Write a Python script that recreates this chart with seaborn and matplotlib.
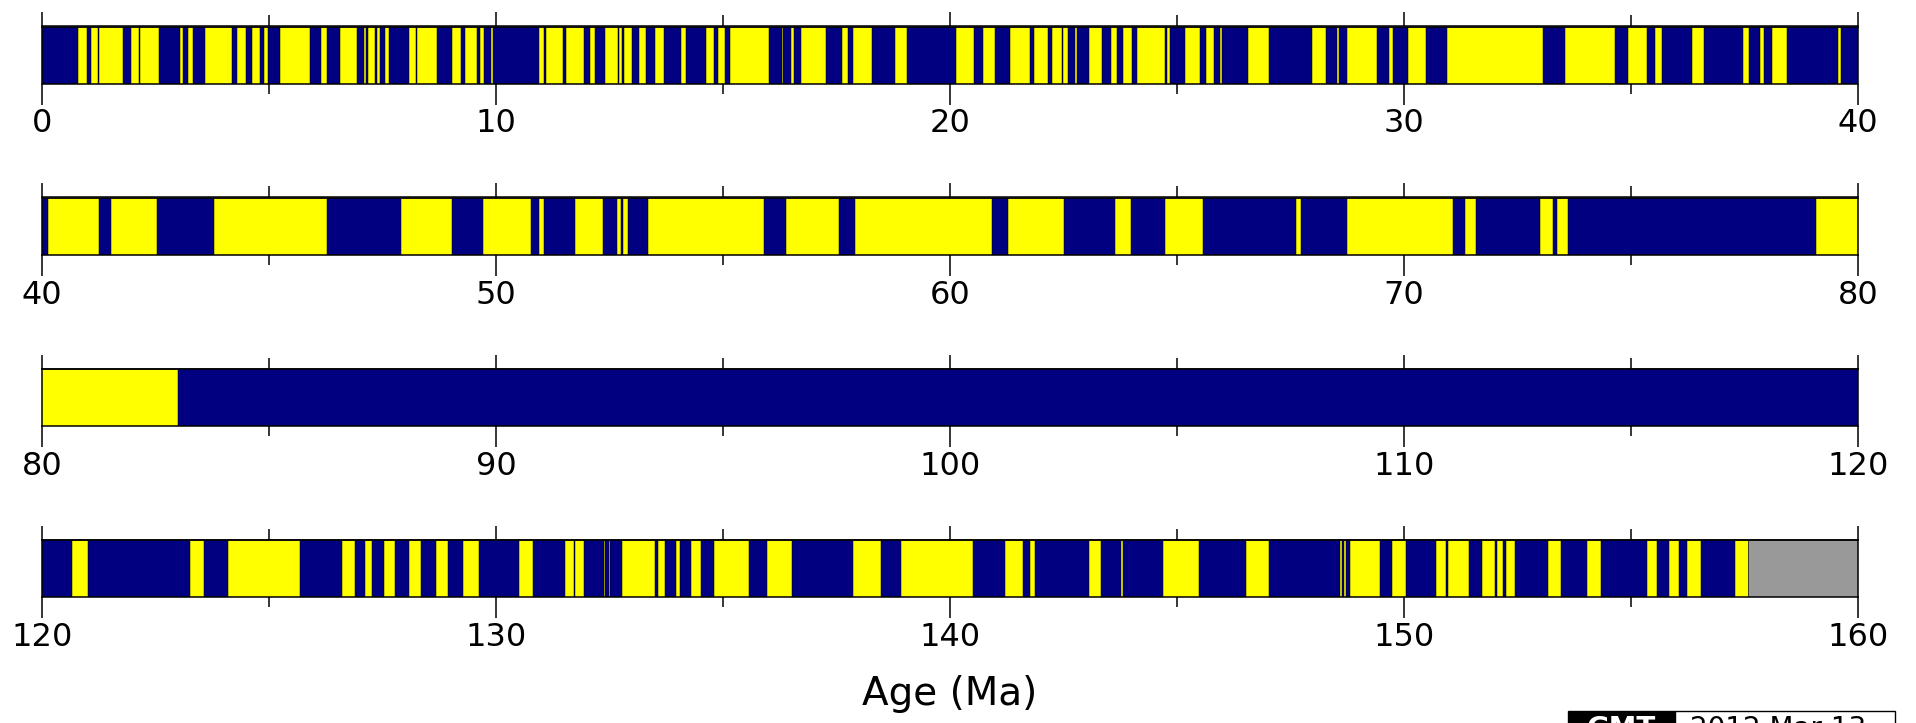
import numpy as np
import matplotlib
matplotlib.use("Agg")
import matplotlib.pyplot as plt
from matplotlib.patches import Rectangle
import seaborn as sns

# -----------------------------
# Data: normal polarity chrons (Ma), everything else in the record is reversed
# -----------------------------
normal_start = [
    0.000, 0.990, 1.225, 1.770, 2.140, 2.581, 3.110, 3.330, 4.180, 4.480,
    4.800, 4.980, 5.894, 6.269, 6.935, 7.135, 7.341, 7.432, 7.650, 8.225,
    8.699, 9.230, 9.580, 9.740, 9.920, 11.052, 11.476, 11.935, 12.184, 12.678,
    12.775, 12.991, 13.302, 13.703, 14.178, 14.800, 15.034, 16.014, 16.327, 16.556,
    17.277, 17.760, 18.281, 19.048, 20.518, 20.996, 21.768, 22.151, 22.459, 22.588,
    22.804, 23.353, 23.677, 23.999, 24.730, 24.835, 25.496, 25.823, 25.992, 27.027,
    28.283, 28.578, 29.401, 29.765, 30.479, 33.058, 34.655, 35.343, 35.685, 36.618,
    37.604, 37.920, 38.426, 39.631, 41.257, 42.536, 46.264, 49.037, 50.778, 51.047,
    52.364, 52.757, 52.903, 55.904, 57.554, 60.920, 62.499, 63.976, 65.578, 67.735,
    71.071, 71.587, 73.291, 73.619, 83.000,
    121.01, 123.56, 125.67, 126.90, 127.26, 127.78, 128.35, 128.93, 129.62, 130.81,
    131.71, 131.93, 132.39, 132.51, 133.50, 133.73, 134.05, 134.52, 135.57, 136.51,
    138.48, 140.50, 141.61, 141.88, 143.32, 143.80, 145.48, 147.03, 148.64, 148.73,
    149.48, 150.04, 150.93, 151.42, 152.00, 152.18, 152.45, 153.46, 154.34, 155.57,
    156.05, 156.54,
]
normal_end = [
    0.780, 1.070, 1.245, 1.950, 2.150, 3.040, 3.220, 3.580, 4.290, 4.620,
    4.890, 5.230, 6.137, 6.567, 7.091, 7.170, 7.375, 7.562, 8.072, 8.257,
    9.025, 9.308, 9.642, 9.880, 10.949, 11.099, 11.531, 12.078, 12.401, 12.708,
    12.819, 13.139, 13.510, 14.076, 14.612, 14.888, 15.155, 16.293, 16.488, 16.726,
    17.615, 17.850, 18.781, 20.131, 20.725, 21.320, 21.859, 22.248, 22.493, 22.750,
    23.069, 23.535, 23.800, 24.118, 24.781, 25.183, 25.648, 25.951, 26.554, 27.972,
    28.512, 28.745, 29.662, 30.098, 30.939, 33.545, 34.940, 35.526, 36.341, 37.473,
    37.848, 38.113, 39.552, 40.130, 41.521, 43.789, 47.906, 49.714, 50.946, 51.743,
    52.663, 52.801, 53.347, 56.391, 57.911, 61.276, 63.634, 64.745, 67.610, 68.737,
    71.338, 73.004, 73.374, 79.075, 120.65,
    123.26, 124.09, 126.60, 127.11, 127.52, 128.09, 128.67, 129.27, 130.51, 131.51,
    131.73, 132.37, 132.48, 132.78, 133.57, 133.96, 134.29, 134.81, 135.96, 137.87,
    138.92, 141.20, 141.77, 143.06, 143.77, 144.69, 146.52, 148.59, 148.68, 148.82,
    149.73, 150.71, 150.97, 151.72, 152.04, 152.25, 153.18, 154.03, 155.35, 155.83,
    156.23, 157.29,
]

record_start = 0.0
record_end = 157.57      # older than this: no data (grey)
age_max = 160.0

row_starts = [0, 40, 80, 120]
row_span = 40
major_step = 10
minor_step = 5

navy = "#000080"
yellow = "#FFFF00"
grey = "#999999"

# -----------------------------
# Figure
# -----------------------------
sns.set_theme(style="ticks")
plt.rcParams['font.family'] = ['DejaVu Sans']

W, H = 1916, 723
fig = plt.figure(figsize=(W / 100, H / 100), dpi=100)

ax_left = 42.2 / W
ax_width = 1815.8 / W
row_tops = [26.5, 197.5, 369, 540]
bar_h = 57

ns = np.array(normal_start)
ne = np.array(normal_end)

for top, x0 in zip(row_tops, row_starts):
    ax = fig.add_axes([ax_left, 1 - (top + bar_h) / H, ax_width, bar_h / H])

    # reversed background, no-data part, then normal chrons
    ax.barh(0, record_end - record_start, left=record_start, height=1,
            color=yellow, edgecolor="black", linewidth=0.4)
    ax.barh(0, age_max - record_end, left=record_end, height=1,
            color=grey, edgecolor="black", linewidth=0.4)
    ax.barh(np.zeros(len(ns)), ne - ns, left=ns, height=1,
            color=navy, edgecolor="black", linewidth=0.35)

    ax.set_xlim(x0, x0 + row_span)
    ax.set_ylim(-0.5, 0.5)
    ax.set_yticks([])

    majors = np.arange(x0, x0 + row_span + 1, major_step)
    minors = np.arange(x0, x0 + row_span + 1, minor_step)
    ax.set_xticks(majors)
    ax.set_xticklabels([str(int(v)) for v in majors])
    ax.set_xticks(minors, minor=True)
    ax.tick_params(axis="x", which="major", direction="out", length=15, width=1.1,
                   color="black", labelcolor="black", labelsize=23, pad=3)
    ax.tick_params(axis="x", which="minor", direction="out", length=7, width=1.1,
                   color="black")
    for sp in ax.spines.values():
        sp.set_visible(True)
        sp.set_color("black")
        sp.set_linewidth(1.1)

    sec = ax.secondary_xaxis("top")
    sec.set_xticks(majors)
    sec.set_xticklabels([])
    sec.set_xticks(minors, minor=True)
    sec.tick_params(axis="x", which="major", direction="out", length=10, width=1.1,
                    color="black")
    sec.tick_params(axis="x", which="minor", direction="out", length=8, width=1.1,
                    color="black")
    sec.spines["top"].set_color("black")
    sec.spines["top"].set_linewidth(1.1)

fig.text(950 / W, 1 - 705 / H, "Age (Ma)", ha="center", va="baseline",
         fontsize=28, color="black")

# GMT time stamp, cut by the lower edge as in the original
fig.add_artist(Rectangle((1568 / W, -0.05), (1675 - 1568) / W, 0.05 + 12 / H,
                         transform=fig.transFigure, facecolor="black",
                         edgecolor="black", linewidth=1))
fig.add_artist(Rectangle((1675 / W, -0.05), (1895 - 1675) / W, 0.05 + 12 / H,
                         transform=fig.transFigure, facecolor="white",
                         edgecolor="black", linewidth=1))
fig.text(1621 / W, 1 - 715 / H, "GMT", ha="center", va="top", fontsize=20,
         color="white", fontweight="bold")
fig.text(1690 / W, 1 - 715 / H, "2012 Mar 13", ha="left", va="top",
         fontsize=20, color="black")

fig.savefig("out.png", dpi=100)
